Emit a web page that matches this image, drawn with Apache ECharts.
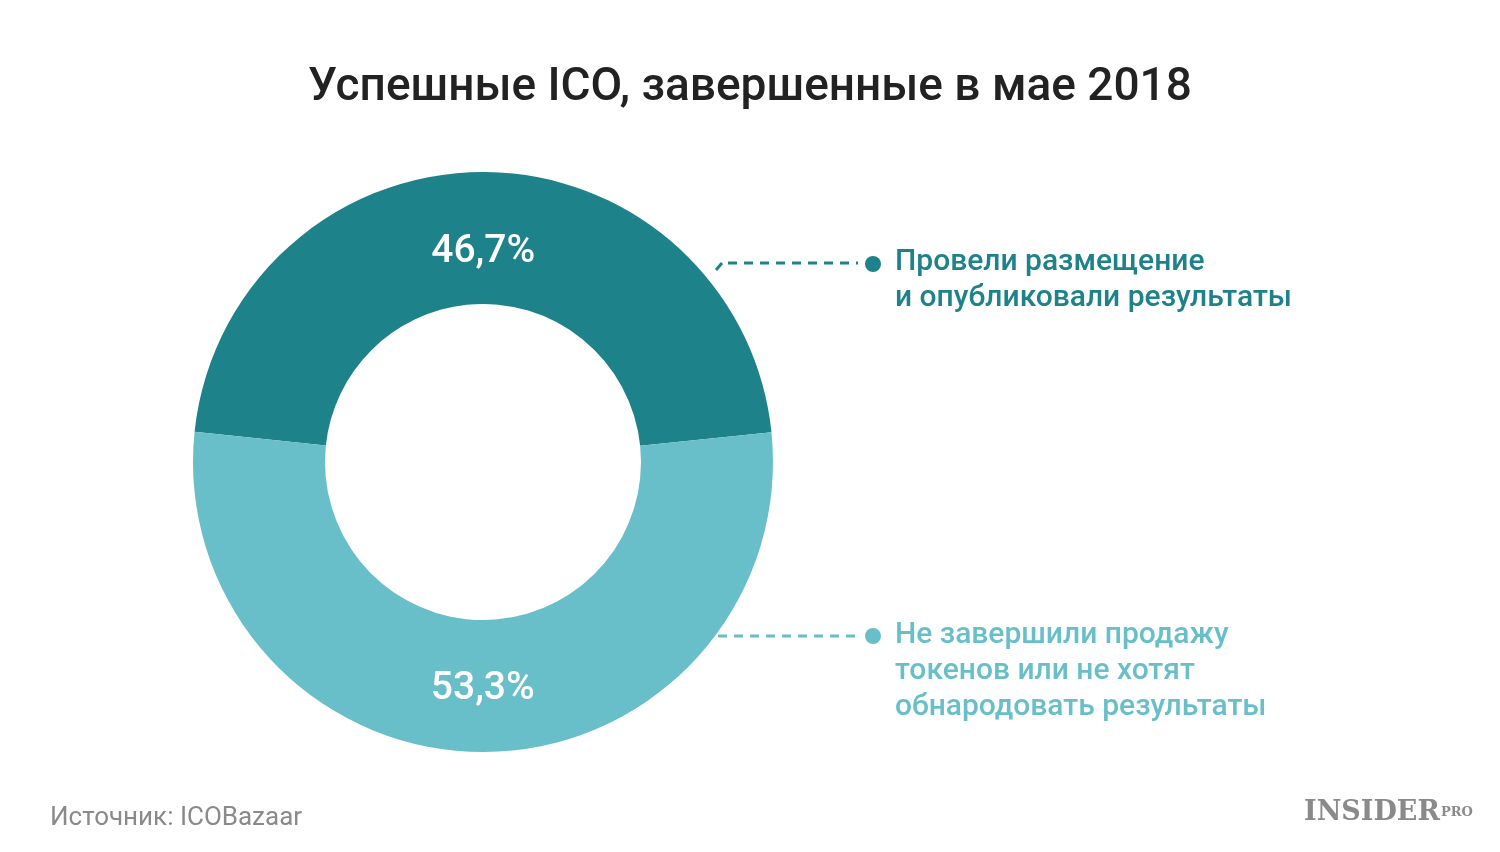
<!DOCTYPE html>
<html><head><meta charset="utf-8">
<script src="https://cdn.jsdelivr.net/npm/echarts@6/dist/echarts.min.js"></script>
<style>html,body{margin:0;padding:0;background:#fff}#c{width:1500px;height:852px}</style>
</head><body><div id="c"></div>
<script>
const categories = ['Провели размещение\nи опубликовали результаты', 'Не завершили продажу\nтокенов или не хотят\nобнародовать результаты'];
const values = [46.7, 53.3];
const labels = ['46,7%', '53,3%'];
const colors = ['#1d8289', '#69bfc9'];
const F = 'Roboto, "Noto Sans", sans-serif';
const chart = echarts.init(document.getElementById('c'));
chart.setOption({
  backgroundColor: '#fff',
  title: { text: 'Успешные ICO, завершенные в мае 2018', left: 'center', top: 60,
    textStyle: { fontFamily: F, fontSize: 46, fontWeight: 500, color: '#222' } },
  series: [{
    type: 'pie', center: [483, 462], radius: [158, 290], startAngle: 174, clockwise: true,
    silent: true, animation: false,
    data: values.map((v, i) => ({ value: v, name: categories[i], itemStyle: { color: colors[i] },
      label: { formatter: labels[i], offset: i === 0 ? [0, 17] : [0, 0] } })),
    label: { show: true, position: 'inside', color: '#fff', fontFamily: F, fontSize: 39, fontWeight: 500 },
    labelLine: { show: false }
  }],
  graphic: [
    { type: 'line', shape: { x1: 716, y1: 270, x2: 722, y2: 263 }, style: { stroke: colors[0], lineWidth: 3 } },
    { type: 'line', shape: { x1: 728, y1: 263, x2: 858, y2: 263 }, style: { stroke: colors[0], lineWidth: 3, lineDash: [9, 7] } },
    { type: 'circle', shape: { cx: 873, cy: 264, r: 8 }, style: { fill: colors[0] } },
    { type: 'text', left: 895, top: 244, style: { text: categories[0], fill: colors[0], font: '500 30px ' + F, lineHeight: 36 } },
    { type: 'line', shape: { x1: 718, y1: 636, x2: 858, y2: 636 }, style: { stroke: colors[1], lineWidth: 3, lineDash: [9, 7] } },
    { type: 'circle', shape: { cx: 873, cy: 636, r: 8 }, style: { fill: colors[1] } },
    { type: 'text', left: 895, top: 617, style: { text: categories[1], fill: colors[1], font: '500 30px ' + F, lineHeight: 36 } },
    { type: 'text', left: 50, top: 805, style: { text: 'Источник: ICOBazaar', fill: '#8a8a8a', font: '26px ' + F } },
    { type: 'text', left: 1304, top: 799, style: { text: 'INSIDER', fill: '#8a8a8a', font: 'bold 27px "DejaVu Serif", serif' } },
    { type: 'text', left: 1441, top: 806, style: { text: 'PRO', fill: '#8a8a8a', font: 'bold 13px "DejaVu Serif", serif' } }
  ]
});
</script></body></html>
